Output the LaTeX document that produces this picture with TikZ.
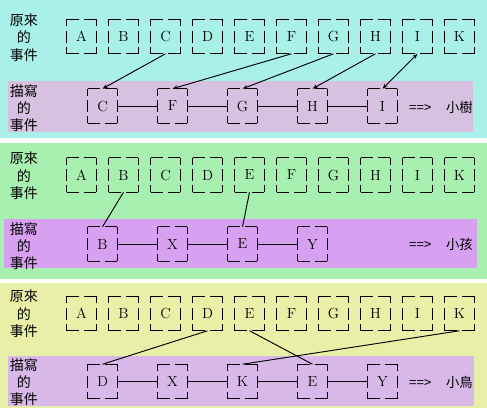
\documentclass[tikz,border=0pt]{standalone}
\usepackage{fontspec}
\newfontfamily\cjk{Noto Sans CJK TC}
\usetikzlibrary{calc, arrows.meta}

\definecolor{bgone}{HTML}{A8F0E8}
\definecolor{bandone}{HTML}{D8C0E0}
\definecolor{bgtwo}{HTML}{A8F0B0}
\definecolor{bandtwo}{HTML}{D8A0F0}
\definecolor{bgthree}{HTML}{E8F0A8}
\definecolor{bandthree}{HTML}{D8B8E8}

% broken frame round an event box
\newcommand\brk[1]{%
  \draw[line width=0.7pt] (#1.north west) -- ++(12.5,0) (#1.north east) -- ++(-12.5,0)
    (#1.south west) -- ++(12.5,0) (#1.south east) -- ++(-12.5,0)
    (#1.north west) -- ++(0,7) (#1.south west) -- ++(0,-7)
    (#1.north east) -- ++(0,7) (#1.south east) -- ++(0,-7)
    ($(#1.west)+(0,-6)$) -- ($(#1.west)+(0,6)$)
    ($(#1.east)+(0,-6)$) -- ($(#1.east)+(0,6)$);}

\begin{document}
\begin{tikzpicture}[x=0.75pt, y=-0.75pt,
  ev/.style={minimum width=21.75pt, minimum height=25.5pt, inner sep=0pt, font=\fontsize{11}{12}\selectfont},
  lbl/.style={align=center, inner sep=0pt, font=\cjk\fontsize{10.5}{13}\selectfont},
  res/.style={inner sep=0pt, font=\cjk\fontsize{10}{11}\selectfont},
  link/.style={line width=0.7pt},
  arrow/.style={link, -{Stealth[length=4pt, width=3pt]}}
]
\useasboundingbox (0,0) rectangle (487,408);

% backgrounds
\fill[bgone] (0,0) rectangle (487,138);
\fill[bandone] (8,81) rectangle (473,132);
\fill[bgtwo] (0,143) rectangle (487,279);
\fill[bandtwo] (4,219) rectangle (477,268);
\fill[bgthree] (0,283) rectangle (487,408);
\fill[bandthree] (8,356) rectangle (474,406);

% panel 1
\node[lbl] (o1lbl) at (24,37.5) {原來\\的\\事件};
\node[lbl] (d1lbl) at (24,108) {描寫\\的\\事件};
\foreach \l [count=\i from 0] in {A,B,C,D,E,F,G,H,I,K} {
  \node[ev] (o1\l) at ({81.5+42*\i},36.5) {\l};
  \brk{o1\l}
}
\foreach \l [count=\i from 0] in {C,F,G,H,I} {
  \node[ev] (d1\l) at ({102.5+70*\i},106) {\l};
  \brk{d1\l}
}
\node[res] (r1) at (441,107) {==>\hspace{1.1em}小樹};
\draw[link] (d1C) -- (d1F) -- (d1G) -- (d1H) -- (d1I);
\draw[arrow] (o1C.south) -- (d1C.north);
\draw[arrow] (o1F.south) -- (d1F.north);
\draw[arrow] (o1G.south) -- (d1G.north);
\draw[arrow] (o1H.south) -- (d1H.north);
\draw[arrow, {Stealth[length=4pt, width=3pt]}-{Stealth[length=4pt, width=3pt]}] (d1I.north) -- (o1I.south);

% panel 2
\node[lbl] (o2lbl) at (24,176) {原來\\的\\事件};
\node[lbl] (d2lbl) at (24,246) {描寫\\的\\事件};
\foreach \l [count=\i from 0] in {A,B,C,D,E,F,G,H,I,K} {
  \node[ev] (o2\l) at ({81.5+42*\i},175) {\l};
  \brk{o2\l}
}
\foreach \l [count=\i from 0] in {B,X,E,Y} {
  \node[ev] (d2\l) at ({102.5+70*\i},244) {\l};
  \brk{d2\l}
}
\node[res] (r2) at (441,244) {==>\hspace{1.1em}小孩};
\draw[link] (d2B) -- (d2X) -- (d2E) -- (d2Y);
\draw[link] (o2B.south) -- (d2B.north);
\draw[link] (o2E.south) -- (d2E.north);

% panel 3
\node[lbl] (o3lbl) at (24,314) {原來\\的\\事件};
\node[lbl] (d3lbl) at (24,382) {描寫\\的\\事件};
\foreach \l [count=\i from 0] in {A,B,C,D,E,F,G,H,I,K} {
  \node[ev] (o3\l) at ({81.5+42*\i},313.5) {\l};
  \brk{o3\l}
}
\foreach \l [count=\i from 0] in {D,X,K,E,Y} {
  \node[ev] (d3\l) at ({102.5+70*\i},381.5) {\l};
  \brk{d3\l}
}
\node[res] (r3) at (441,382) {==>\hspace{1.1em}小鳥};
\draw[link] (d3D) -- (d3X) -- (d3K) -- (d3E) -- (d3Y);
\draw[link] (o3D.south) -- (d3D.north);
\draw[link] (o3E.south) -- (d3E.north);
\draw[link] (o3K.south) -- (d3K.north);

\end{tikzpicture}
\end{document}
